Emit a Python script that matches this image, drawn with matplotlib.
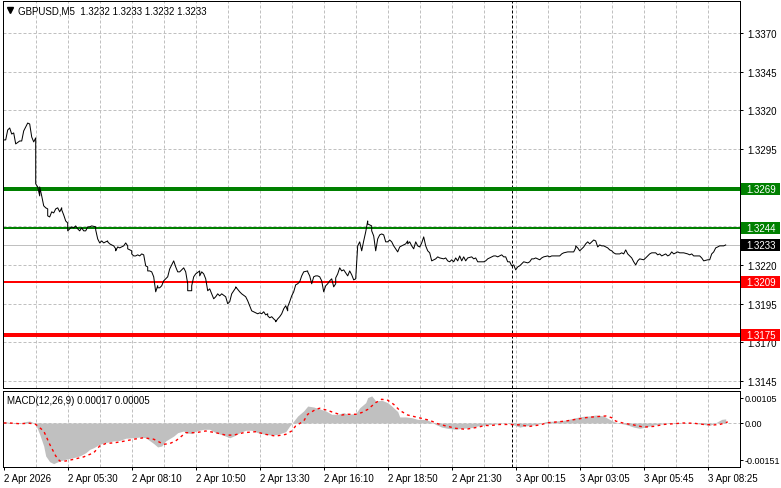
#!/usr/bin/env python3
"""GBPUSD M5 chart with support/resistance levels and MACD sub-window."""
import matplotlib
matplotlib.use("Agg")
import matplotlib.pyplot as plt
import matplotlib.patches as mpatches
import matplotlib.lines as mlines
import matplotlib.transforms as mtransforms

# ---- data (bar index = 5-minute bars from the left edge) ----
BAR = [
    0, 1, 2, 3, 4, 5, 6, 8, 9, 10,
    11, 12, 13, 14, 15, 16, 16, 17, 18, 18,
    19, 20, 21, 22, 22, 23, 24, 25, 26, 27,
    28, 29, 29, 30, 31, 32, 32, 33, 34, 35,
    36, 37, 38, 39, 40, 41, 42, 43, 44, 46,
    46, 47, 48, 49, 50, 51, 52, 52, 53, 54,
    55, 56, 56, 57, 58, 60, 61, 62, 62, 64,
    64, 65, 66, 67, 68, 69, 70, 71, 72, 72,
    73, 74, 75, 76, 77, 77, 78, 79, 80, 82,
    83, 85, 86, 87, 88, 90, 91, 92, 92, 94,
    94, 95, 96, 98, 98, 99, 100, 101, 102, 103,
    104, 105, 106, 107, 108, 109, 111, 112, 113, 114,
    116, 116, 118, 119, 121, 122, 123, 124, 126, 127,
    128, 129, 130, 131, 132, 132, 133, 134, 135, 136,
    136, 137, 138, 139, 140, 141, 142, 142, 143, 144,
    145, 146, 147, 148, 149, 150, 152, 152, 153, 154,
    155, 156, 157, 158, 159, 160, 161, 162, 163, 164,
    165, 166, 166, 167, 168, 169, 170, 172, 173, 174,
    175, 176, 177, 178, 179, 180, 181, 182, 182, 184,
    184, 185, 186, 187, 188, 189, 190, 191, 192, 193,
    194, 195, 196, 197, 198, 199, 201, 202, 202, 203,
    204, 205, 206, 207, 208, 209, 210, 211, 212, 213,
    214, 216, 217, 218, 220, 221, 222, 223, 224, 225,
    226, 227, 228, 229, 230, 231, 232, 234, 235, 236,
    237, 238, 240, 241, 242, 244, 245, 246, 247, 249,
    250, 251, 252, 253, 254, 255, 256, 257, 258, 259,
    260, 262, 263, 264, 265, 266, 268, 269, 270, 272,
    273, 274, 275, 276, 278, 279, 280, 282, 283, 284,
    285, 286, 286, 287, 288, 290, 291, 292, 293, 294,
    295, 296, 297, 298, 299, 300, 302, 303, 304, 305,
    306, 308, 309, 310, 311, 312, 314, 315, 316, 317,
    318, 320, 321, 322, 323, 324, 326, 327, 328, 329,
    331, 332, 333, 334, 335, 337, 338, 339, 340, 342,
    343, 344, 345, 346, 348, 349, 350, 352, 353, 354,
    355, 356, 357, 358, 360, 361,
]
CLOSE = [
    1.33009, 1.33009, 1.33073, 1.33086, 1.33047, 1.33054, 1.32983, 1.33002, 1.33002, 1.33067,
    1.33093, 1.33118, 1.33112, 1.33028, 1.32996, 1.33022, 1.32725, 1.32705, 1.32647, 1.32705,
    1.32647, 1.32583, 1.32570, 1.32563, 1.32518, 1.32511, 1.32544, 1.32537, 1.32563, 1.32570,
    1.32544, 1.32570, 1.32557, 1.32524, 1.32485, 1.32472, 1.32421, 1.32434, 1.32447, 1.32440,
    1.32453, 1.32434, 1.32421, 1.32440, 1.32421, 1.32421, 1.32447, 1.32447, 1.32453, 1.32447,
    1.32427, 1.32369, 1.32343, 1.32356, 1.32343, 1.32350, 1.32356, 1.32350, 1.32337, 1.32330,
    1.32324, 1.32305, 1.32292, 1.32317, 1.32311, 1.32324, 1.32343, 1.32324, 1.32305, 1.32292,
    1.32272, 1.32259, 1.32259, 1.32266, 1.32259, 1.32272, 1.32266, 1.32195, 1.32188, 1.32162,
    1.32162, 1.32156, 1.32124, 1.32027, 1.32066, 1.32053, 1.32053, 1.32066, 1.32098, 1.32124,
    1.32175, 1.32227, 1.32188, 1.32156, 1.32156, 1.32182, 1.32156, 1.32079, 1.32034, 1.32034,
    1.32066, 1.32124, 1.32143, 1.32162, 1.32130, 1.32156, 1.32143, 1.32111, 1.32034, 1.32046,
    1.32014, 1.31982, 1.31995, 1.32014, 1.32001, 1.32014, 1.31995, 1.31950, 1.31963, 1.32014,
    1.32053, 1.32059, 1.32027, 1.32014, 1.31995, 1.31969, 1.31937, 1.31904, 1.31891, 1.31885,
    1.31891, 1.31885, 1.31898, 1.31878, 1.31885, 1.31872, 1.31859, 1.31866, 1.31852, 1.31840,
    1.31833, 1.31852, 1.31866, 1.31885, 1.31917, 1.31937, 1.31904, 1.31930, 1.31963, 1.32001,
    1.32027, 1.32072, 1.32079, 1.32092, 1.32130, 1.32156, 1.32162, 1.32156, 1.32130, 1.32079,
    1.32124, 1.32130, 1.32130, 1.32124, 1.32098, 1.32027, 1.32066, 1.32079, 1.32098, 1.32111,
    1.32059, 1.32079, 1.32117, 1.32143, 1.32182, 1.32162, 1.32169, 1.32130, 1.32162, 1.32137,
    1.32104, 1.32111, 1.32324, 1.32350, 1.32292, 1.32356, 1.32414, 1.32485, 1.32466, 1.32453,
    1.32421, 1.32388, 1.32292, 1.32369, 1.32395, 1.32401, 1.32395, 1.32350, 1.32350, 1.32362,
    1.32350, 1.32324, 1.32305, 1.32285, 1.32317, 1.32324, 1.32337, 1.32356, 1.32337, 1.32350,
    1.32324, 1.32305, 1.32350, 1.32324, 1.32317, 1.32343, 1.32382, 1.32324, 1.32292, 1.32279,
    1.32227, 1.32240, 1.32253, 1.32246, 1.32240, 1.32246, 1.32227, 1.32221, 1.32234, 1.32221,
    1.32246, 1.32227, 1.32259, 1.32227, 1.32253, 1.32227, 1.32246, 1.32253, 1.32240, 1.32246,
    1.32221, 1.32221, 1.32221, 1.32227, 1.32240, 1.32253, 1.32259, 1.32259, 1.32253, 1.32266,
    1.32253, 1.32253, 1.32221, 1.32221, 1.32195, 1.32201, 1.32169, 1.32188, 1.32195, 1.32208,
    1.32221, 1.32214, 1.32221, 1.32240, 1.32240, 1.32246, 1.32234, 1.32246, 1.32253, 1.32259,
    1.32253, 1.32259, 1.32259, 1.32259, 1.32259, 1.32272, 1.32279, 1.32285, 1.32285, 1.32285,
    1.32285, 1.32311, 1.32324, 1.32311, 1.32292, 1.32317, 1.32337, 1.32350, 1.32337, 1.32350,
    1.32362, 1.32356, 1.32317, 1.32330, 1.32324, 1.32324, 1.32311, 1.32298, 1.32292, 1.32279,
    1.32272, 1.32272, 1.32279, 1.32272, 1.32298, 1.32272, 1.32246, 1.32221, 1.32201, 1.32227,
    1.32240, 1.32234, 1.32246, 1.32259, 1.32272, 1.32279, 1.32279, 1.32266, 1.32272, 1.32259,
    1.32272, 1.32259, 1.32266, 1.32285, 1.32272, 1.32285, 1.32279, 1.32279, 1.32279, 1.32272,
    1.32266, 1.32272, 1.32259, 1.32259, 1.32259, 1.32246, 1.32227, 1.32234, 1.32234, 1.32272,
    1.32285, 1.32311, 1.32317, 1.32324, 1.32324, 1.32330,
]

HIST_BAR = [
    0, 5, 8, 11, 13, 15, 16, 18, 20, 21, 23, 25, 26, 28, 31, 35, 38, 41, 43, 45,
    48, 51, 55, 58, 61, 65, 68, 71, 75, 77, 79, 81, 85, 87, 90, 91, 94, 96, 100, 103,
    106, 110, 113, 115, 118, 121, 124, 127, 131, 134, 137, 141, 143, 145, 147, 150, 152, 155, 157, 161,
    164, 167, 170, 172, 176, 178, 181, 182, 184, 185, 186, 189, 192, 194, 197, 198, 201, 204, 207, 211,
    213, 216, 219, 222, 226, 229, 234, 237, 243, 248, 251, 255, 258, 261, 265, 268, 271, 276, 281, 286,
    290, 293, 296, 300, 302, 305, 308, 311, 315, 318, 321, 325, 330, 335, 340, 345, 350, 353, 356, 359,
    361,
]
HIST_VAL = [
    0.00006, 0.0, -0.00001, 0.00006, 0.00008, 0.00001, -0.00006, -0.00047, -0.00095, -0.00136,
    -0.00160, -0.00168, -0.00164, -0.00157, -0.00150, -0.00143, -0.00136, -0.00123, -0.00109, -0.00102,
    -0.00088, -0.00081, -0.00074, -0.00072, -0.00063, -0.00061, -0.00058, -0.00061, -0.00085, -0.00099,
    -0.00095, -0.00074, -0.00054, -0.00040, -0.00033, -0.00040, -0.00044, -0.00033, -0.00026, -0.00026,
    -0.00040, -0.00051, -0.00061, -0.00054, -0.00040, -0.00030, -0.00030, -0.00040, -0.00047, -0.00050,
    -0.00047, -0.00036, -0.00012, 0.00008, 0.00029, 0.00050, 0.00070, 0.00066, 0.00061, 0.00050,
    0.00036, 0.00036, 0.00043, 0.00036, 0.00039, 0.00063, 0.00084, 0.00105, 0.00112, 0.00102,
    0.00091, 0.00094, 0.00084, 0.00070, 0.00047, 0.00025, 0.00025, 0.00022, 0.00015, 0.00015,
    0.00008, -0.00006, -0.00017, -0.00022, -0.00026, -0.00022, -0.00019, -0.00012, -0.00006, -0.00003,
    0.00001, -0.00008, -0.00017, -0.00012, -0.00008, -0.00003, 0.00006, 0.00008, 0.00012, 0.00022,
    0.00028, 0.00029, 0.00033, 0.00029, 0.00019, 0.00006, -0.00001, -0.00006, -0.00017, -0.00022,
    -0.00017, -0.00008, -0.00003, 0.0, 0.00001, -0.00001, -0.00006, -0.00010, 0.00001, 0.00015,
    0.00017,
]

SIG_BAR = [
    0, 3, 8, 13, 16, 20, 23, 26, 28, 31, 35, 40, 45, 48, 51, 56, 61, 65, 70, 75,
    80, 83, 86, 89, 91, 96, 101, 106, 111, 115, 120, 126, 131, 136, 141, 144, 146, 150, 152, 156,
    158, 162, 165, 169, 172, 176, 179, 182, 186, 189, 192, 195, 198, 202, 206, 209, 213, 217, 221, 226,
    231, 236, 241, 243, 248, 253, 258, 263, 268, 272, 276, 281, 286, 291, 296, 301, 304, 306, 310, 315,
    320, 325, 330, 335, 340, 345, 350, 355, 358, 361, 362,
]
SIG_VAL = [
    0.0, 0.0, -0.00003, -0.00001, -0.00006, -0.00033, -0.00088, -0.00136, -0.00157, -0.00157,
    -0.00150, -0.00140, -0.00123, -0.00095, -0.00085, -0.00081, -0.00074, -0.00067, -0.00061, -0.00067,
    -0.00088, -0.00085, -0.00074, -0.00054, -0.00040, -0.00040, -0.00033, -0.00040, -0.00050, -0.00050,
    -0.00040, -0.00036, -0.00047, -0.00054, -0.00047, -0.00033, -0.00012, 0.00008, 0.00036, 0.00056,
    0.00061, 0.00052, 0.00043, 0.00033, 0.00036, 0.00036, 0.00043, 0.00056, 0.00084, 0.00098,
    0.00094, 0.00077, 0.00052, 0.00033, 0.00025, 0.00019, 0.00011, -0.00003, -0.00012, -0.00022,
    -0.00026, -0.00019, -0.00010, -0.00011, -0.00006, -0.00006, -0.00008, -0.00014, -0.00008, 0.00001,
    0.00004, 0.00008, 0.00015, 0.00022, 0.00026, 0.00029, 0.00022, 0.00008, -0.00001, -0.00008,
    -0.00017, -0.00014, -0.00006, -0.00003, 0.0, -0.00001, -0.00006, -0.00008, -0.00006, 0.00001,
    0.00005,
]

LEVELS = [1.3269, 1.3244, 1.3209, 1.3175]
LEVEL_KIND = ["strong", "weak", "weak", "strong"]
LEVEL_SIDE = ["buy", "buy", "sell", "sell"]
BID = 1.3233
PRICE_TICKS = [1.3145, 1.3170, 1.3195, 1.3220, 1.3245, 1.3270, 1.3295, 1.3320, 1.3345, 1.3370]
MACD_TICKS = [-0.00151, 0.0, 0.00105]
MACD_TICK_TEXT = ["-0.00151", "0.00", "0.00105"]
DAY_START = 254
TIME_LABELS = ["2 Apr 2026", "2 Apr 05:30", "2 Apr 08:10", "2 Apr 10:50", "2 Apr 13:30",
               "2 Apr 16:10", "2 Apr 18:50", "2 Apr 21:30", "3 Apr 00:15", "3 Apr 03:05",
               "3 Apr 05:45", "3 Apr 08:25"]
TITLE = "GBPUSD,M5  1.3232 1.3233 1.3232 1.3233"
MACD_TITLE = "MACD(12,26,9) 0.00017 0.00005"

# ---- style ----
GREEN = "#008000"
RED = "#FF0000"
SILVER = "#C0C0C0"
INK = "#000000"
FS = 7.0
PX = 0.72  # one pixel in points at 100 dpi

plt.rcParams["font.family"] = ["Liberation Sans", "DejaVu Sans"]
plt.rcParams["font.size"] = FS

W, H = 781, 489
fig = plt.figure(figsize=(W / 100, H / 100), dpi=100, facecolor="white")


def px_axes(x0, y0, x1, y1):
    return fig.add_axes([x0 / W, 1 - y1 / H, (x1 - x0) / W, (y1 - y0) / H])


ax = px_axes(3, 2, 740, 389)
axm = px_axes(3, 392, 740, 468)

XMIN, XMAX = -0.35, 368.15
for a in (ax, axm):
    a.set_xlim(XMIN, XMAX)
    a.set_facecolor("white")
    for s in a.spines.values():
        s.set_color(INK)
        s.set_linewidth(PX)
    a.yaxis.tick_right()
    a.tick_params(axis="y", direction="out", length=3 * PX, width=PX,
                  pad=3, labelsize=FS, colors=INK)
    for gx in range(16, 368, 16):
        a.axvline(gx, color=SILVER, lw=PX, ls=(0, (3, 2)), zorder=0)
    a.axvline(DAY_START, color=INK, lw=PX, ls=(0, (3, 2)), zorder=1)

# ---- price panel ----
ax.set_ylim(1.314052, 1.339069)
ax.set_yticks(PRICE_TICKS)
ax.set_yticklabels([f"{t:.4f}" for t in PRICE_TICKS])
ax.set_xticks([])
for t in PRICE_TICKS:
    ax.axhline(t, color=SILVER, lw=PX, ls=(0, (3, 2)), zorder=0)
ax.axhline(BID, color=SILVER, lw=PX, zorder=1)

for lvl, kind, side in zip(LEVELS, LEVEL_KIND, LEVEL_SIDE):
    col = GREEN if side == "buy" else RED
    ax.axhline(lvl, color=col, lw=(4 if kind == "strong" else 2) * PX, zorder=2)

ax.plot(BAR, CLOSE, color=INK, lw=PX, zorder=3)

# value tags on the price scale
ymin, ymax = ax.get_ylim()
tag_h = 12 / 387 * (ymax - ymin)
trans = mtransforms.blended_transform_factory(ax.transAxes, ax.transData)
tags = [(l, GREEN if s == "buy" else RED) for l, s in zip(LEVELS, LEVEL_SIDE)] + [(BID, INK)]
for val, col in tags:
    ax.add_patch(mpatches.Rectangle((1.0 + 1 / 737, val - tag_h / 2), 39 / 737, tag_h,
                                    transform=trans, facecolor=col, edgecolor="none",
                                    clip_on=False, zorder=10))
    ax.text(1.0 + 6 / 737, val, f"{val:.4f}", transform=trans, color="white",
            fontsize=FS, va="center", ha="left", clip_on=False, zorder=11)

fig.add_artist(mlines.Line2D([9.7 / W], [1 - 11 / H], marker="v", ms=4.2, color=INK,
                             transform=fig.transFigure))
fig.text(18 / W, 1 - 11 / H, TITLE, fontsize=FS, color=INK, va="center", ha="left")

# ---- MACD panel ----
axm.set_ylim(-0.001818, 0.001322)
axm.axhline(0, color=SILVER, lw=PX, ls=(0, (3, 2)), zorder=0)
axm.fill_between(HIST_BAR, HIST_VAL, 0, color=SILVER, lw=0, zorder=2)
axm.plot(SIG_BAR, SIG_VAL, color=RED, lw=1.0, ls=(0, (2, 2.5)), zorder=3)
axm.set_yticks(MACD_TICKS)
axm.set_yticklabels(MACD_TICK_TEXT)
axm.tick_params(axis="y", pad=1.5, labelsize=6.5)
axm.set_xticks(range(0, 353, 32))
axm.set_xticklabels(TIME_LABELS, ha="left")
axm.tick_params(axis="x", direction="out", length=3 * PX, width=PX, pad=2,
                labelsize=FS, colors=INK)
axm.text(4 / 737, 1 - 9 / 76, MACD_TITLE, transform=axm.transAxes, fontsize=FS,
         color=INK, va="center", ha="left")

fig.savefig("out.png", dpi=100, facecolor="white")
